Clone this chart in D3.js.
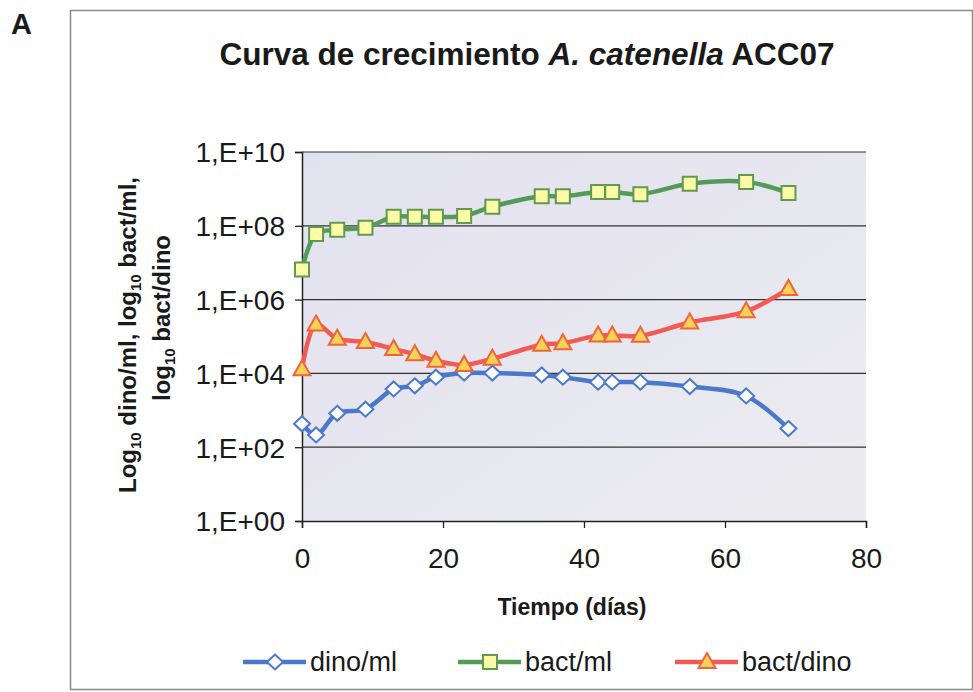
<!DOCTYPE html>
<html>
<head>
<meta charset="utf-8">
<script src="https://cdn.jsdelivr.net/npm/d3@7"></script>
<style>
  html, body { margin: 0; padding: 0; background: #fff; }
  text { font-family: "Liberation Sans", Arial, sans-serif; fill: #1a1a1a; }
</style>
</head>
<body>
<svg id="chart" width="973" height="692"></svg>
<script>
// days of culture
var days = [0, 2, 5, 9, 13, 16, 19, 23, 27, 34, 37, 42, 44, 48, 55, 63, 69];
// dinoflagellate cells per ml
var dinoMl = [430, 215, 830, 1070, 3800, 4600, 7900, 10200, 10200, 9100, 7900, 5800, 5800, 5800, 4400, 2450, 320];
// bacteria per ml
var bactMl = [6.5e6, 6.0e7, 7.8e7, 8.9e7, 1.75e8, 1.75e8, 1.75e8, 1.85e8, 3.3e8, 6.3e8, 6.3e8, 8.3e8, 8.3e8, 7.2e8, 1.38e9, 1.55e9, 7.8e8];
// bacteria per dinoflagellate
var bactDino = [1.3e4, 2.1e5, 8.7e4, 7.1e4, 4.6e4, 3.3e4, 2.2e4, 1.7e4, 2.5e4, 6.0e4, 6.6e4, 1.07e5, 1.07e5, 1.05e5, 2.4e5, 4.8e5, 1.95e6];

var seriesNames = ['dino/ml', 'bact/ml', 'bact/dino'];
var xTicks = [0, 20, 40, 60, 80];
var yTicks = [1, 1e2, 1e4, 1e6, 1e8, 1e10];

var svg = d3.select('#chart');

var x = d3.scaleLinear().domain([0, 80]).range([302, 866]);
var y = d3.scaleLog().domain([1, 1e10]).range([521, 152]);

// outer frame and panel letter
svg.append('rect')
  .attr('x', 70.5).attr('y', 10.5)
  .attr('width', 902).attr('height', 679)
  .attr('fill', 'none')
  .attr('stroke', '#8a8a8a')
  .attr('stroke-width', 1.5);

svg.append('text')
  .attr('x', 11).attr('y', 34)
  .style('font-size', '29px')
  .style('font-weight', 'bold')
  .text('A');

// title
var title = svg.append('text')
  .attr('x', 527).attr('y', 65)
  .attr('text-anchor', 'middle')
  .style('font-size', '31.5px')
  .style('font-weight', 'bold');
title.append('tspan').text('Curva de crecimiento ');
title.append('tspan').style('font-style', 'italic').text('A. catenella');
title.append('tspan').text(' ACC07');

// plot background
var grad = svg.append('defs').append('linearGradient')
  .attr('id', 'plotBg')
  .attr('x1', 0).attr('y1', 0).attr('x2', 1).attr('y2', 1);
grad.append('stop').attr('offset', '0%').attr('stop-color', '#e2e1ef');
grad.append('stop').attr('offset', '100%').attr('stop-color', '#ececf0');

svg.append('rect')
  .attr('x', x(0)).attr('y', y(1e10))
  .attr('width', x(80) - x(0))
  .attr('height', y(1) - y(1e10))
  .attr('fill', 'url(#plotBg)');

// horizontal gridlines
svg.append('g')
  .selectAll('line')
  .data(yTicks.slice(1))
  .enter()
  .append('line')
  .attr('x1', x(0)).attr('x2', x(80))
  .attr('y1', function (d) { return y(d); })
  .attr('y2', function (d) { return y(d); })
  .attr('stroke', '#333')
  .attr('stroke-width', 1.2);

// axes
var yAxis = d3.axisLeft(y)
  .tickValues(yTicks)
  .tickSize(7)
  .tickPadding(10)
  .tickFormat(function (d) {
    var e = Math.round(Math.log10(d));
    return '1,E+' + (e < 10 ? '0' + e : e);
  });

var xAxis = d3.axisBottom(x)
  .tickValues(xTicks)
  .tickSize(7)
  .tickPadding(20)
  .tickFormat(d3.format('d'));

var gy = svg.append('g')
  .attr('transform', 'translate(' + x(0) + ',0)')
  .call(yAxis);
var gx = svg.append('g')
  .attr('transform', 'translate(0,' + y(1) + ')')
  .call(xAxis);

[gx, gy].forEach(function (g) {
  g.select('.domain').attr('stroke', '#222').attr('stroke-width', 1.5);
  g.selectAll('.tick line').attr('stroke', '#222').attr('stroke-width', 1.3);
  g.selectAll('.tick text')
    .attr('fill', '#1a1a1a')
    .style('font-family', '"Liberation Sans", Arial, sans-serif')
    .style('font-size', '28px');
});
gy.selectAll('.tick text').attr('dy', '0.35em');

// axis titles
svg.append('text')
  .attr('x', 572).attr('y', 615)
  .attr('text-anchor', 'middle')
  .style('font-size', '23px')
  .style('font-weight', 'bold')
  .text('Tiempo (días)');

var yl1 = svg.append('text')
  .attr('transform', 'translate(136,335) rotate(-90)')
  .attr('text-anchor', 'middle')
  .style('font-size', '24px')
  .style('font-weight', 'bold');
yl1.append('tspan').text('Log');
yl1.append('tspan').attr('dy', 5).style('font-size', '15px').text('10');
yl1.append('tspan').attr('dy', -5).text(' dino/ml, log');
yl1.append('tspan').attr('dy', 5).style('font-size', '15px').text('10');
yl1.append('tspan').attr('dy', -5).text(' bact/ml,');

var yl2 = svg.append('text')
  .attr('transform', 'translate(170,318) rotate(-90)')
  .attr('text-anchor', 'middle')
  .style('font-size', '24px')
  .style('font-weight', 'bold');
yl2.append('tspan').text('log');
yl2.append('tspan').attr('dy', 5).style('font-size', '15px').text('10');
yl2.append('tspan').attr('dy', -5).text(' bact/dino');

// series
var styles = [
  { values: dinoMl, line: '#4a78cc', fill: '#ffffff', stroke: '#4a78cc', symbol: 'diamond' },
  { values: bactMl, line: '#549a58', fill: '#fdfba6', stroke: '#5f9a4e', symbol: 'square' },
  { values: bactDino, line: '#f25a55', fill: '#f8d258', stroke: '#f0643c', symbol: 'triangle' }
];

function markerPath(kind) {
  if (kind === 'diamond') return 'M0,-7.5L8,0L0,7.5L-8,0Z';
  if (kind === 'square') return 'M-7,-7L7,-7L7,7L-7,7Z';
  return 'M0,-9L8.5,6L-8.5,6Z';
}

var line = d3.line()
  .x(function (d) { return x(d[0]); })
  .y(function (d) { return y(d[1]); })
  .curve(d3.curveCatmullRom.alpha(0.5));

styles.forEach(function (s) {
  var pts = days.map(function (d, i) { return [d, s.values[i]]; });
  var g = svg.append('g');
  g.append('path')
    .datum(pts)
    .attr('d', line)
    .attr('fill', 'none')
    .attr('stroke', s.line)
    .attr('stroke-width', 4.5)
    .attr('stroke-linejoin', 'round');
  g.selectAll('path.mark')
    .data(pts)
    .enter()
    .append('path')
    .attr('class', 'mark')
    .attr('transform', function (d) { return 'translate(' + x(d[0]) + ',' + y(d[1]) + ')'; })
    .attr('d', markerPath(s.symbol))
    .attr('fill', s.fill)
    .attr('stroke', s.stroke)
    .attr('stroke-width', 2);
});

// legend
var legendX = [243, 458, 675];
var legend = svg.append('g')
  .selectAll('g')
  .data(styles)
  .enter()
  .append('g')
  .attr('transform', function (d, i) { return 'translate(' + legendX[i] + ',662)'; });

legend.append('line')
  .attr('x1', 0).attr('x2', 63)
  .attr('y1', 0).attr('y2', 0)
  .attr('stroke', function (d) { return d.line; })
  .attr('stroke-width', 4.5);
legend.append('path')
  .attr('transform', 'translate(32,0)')
  .attr('d', function (d) { return markerPath(d.symbol); })
  .attr('fill', function (d) { return d.fill; })
  .attr('stroke', function (d) { return d.stroke; })
  .attr('stroke-width', 2);
legend.append('text')
  .attr('x', 67).attr('y', 9)
  .style('font-size', '27px')
  .text(function (d, i) { return seriesNames[i]; });
</script>
</body>
</html>
